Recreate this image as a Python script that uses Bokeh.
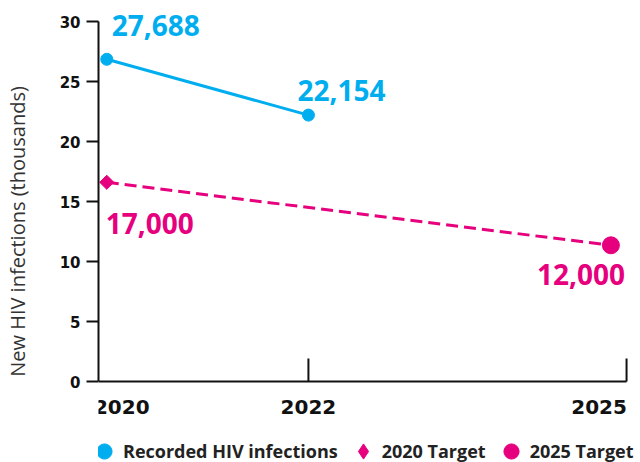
import math
from bokeh.plotting import figure
from bokeh.models import Range1d, FixedTicker, Legend, LegendItem
from bokeh.core.properties import value
from bokeh.embed import file_html
from bokeh.resources import INLINE

# ---------------- data (thousands) ----------------
recorded_years = [2020, 2022]
recorded_values = [26.85, 22.2]
recorded_labels = ["27,688", "22,154"]

target2020_years = [2020]
target2020_values = [16.6]
target2020_labels = ["17,000"]

target2025_years = [2025]
target2025_values = [11.35]
target2025_labels = ["12,000"]

target_line_years = [2020, 2025]
target_line_values = [16.6, 11.35]

y_ticks = [0, 5, 10, 15, 20, 25, 30]
x_tick_years = [2020, 2022, 2025]
x_tick_labels = ["2020", "2022", "2025"]

legend_labels = ["Recorded HIV infections", "2020 Target", "2025 Target"]
y_title = "New HIV infections (thousands)"

# ---------------- style / layout ----------------
BLUE = "#00AEEF"
PINK = "#E6007E"
INK = "#111111"
PX_PER_YEAR = 101.2
PX_PER_UNIT = 12
X_START = 2020 - 8.3 / PX_PER_YEAR
AXIS_END = X_START + 530 / PX_PER_YEAR
X_END = X_START + 544 / PX_PER_YEAR
Y_START = -81 / PX_PER_UNIT
Y_END = 381 / PX_PER_UNIT

p = figure(width=640, height=462, output_backend="svg", toolbar_location=None,
           title=None, x_range=Range1d(X_START, X_END), y_range=Range1d(Y_START, Y_END),
           min_border_left=96, min_border_right=0, min_border_top=0, min_border_bottom=0,
           outline_line_color=None)
p.grid.visible = False
p.xaxis.visible = False

yax = p.yaxis[0]
yax.ticker = FixedTicker(ticks=y_ticks)
yax.bounds = (0, 30)
yax.major_tick_out = 12
yax.major_tick_in = 0
yax.minor_tick_out = 0
yax.minor_tick_in = 0
yax.axis_line_width = 2
yax.axis_line_color = INK
yax.major_tick_line_width = 2
yax.major_tick_line_color = INK
yax.major_label_text_font = "DejaVu Sans"
yax.major_label_text_font_style = "bold"
yax.major_label_text_font_size = "15px"
yax.major_label_text_color = INK
yax.major_label_standoff = 6
yax.axis_label = y_title
yax.axis_label_text_font = "Open Sans"
yax.axis_label_text_font_style = "normal"
yax.axis_label_text_font_size = "20px"
yax.axis_label_text_color = "#333333"
yax.axis_label_standoff = 26

# x axis line and inward ticks
p.segment(x0=[X_START], y0=[0], x1=[AXIS_END], y1=[0], line_color=INK, line_width=2)
tick_x = [2022, AXIS_END]
p.segment(x0=tick_x, y0=[0, 0], x1=tick_x, y1=[23 / 12, 23 / 12], line_color=INK, line_width=2)

# year labels
year_aligns = ["center", "center", "right"]
year_offsets = [15, 0, 16]
for yr, lab, al, off in zip(x_tick_years, x_tick_labels, year_aligns, year_offsets):
    p.text(x=[yr], y=[0], text=[lab], x_offset=off, y_offset=25, text_align=al,
           text_baseline="middle", text_font=value("DejaVu Sans"), text_font_style="bold",
           text_font_size="20px", text_color=INK)

# series
p.line(recorded_years, recorded_values, line_color=BLUE, line_width=3)
r_rec = p.scatter(recorded_years, recorded_values, size=12, color=BLUE)
p.line(target_line_years, target_line_values, line_color=PINK, line_width=3, line_dash="12 6")
# diamond key for the legend (sits hidden under the rotated-square marker)
r_t20 = p.scatter(target2020_years, target2020_values, marker="diamond", size=10, color=PINK)
p.scatter(target2020_years, target2020_values, marker="square", angle=math.pi / 4,
          size=10, color=PINK)
r_t25 = p.scatter(target2025_years, target2025_values, size=17, color=PINK)

lab_kw = dict(text_font=value("Open Sans"), text_font_style="bold", text_font_size="28px",
              text_baseline="middle")
p.text(x=[recorded_years[0]], y=[recorded_values[0]], text=[recorded_labels[0]],
       x_offset=5, y_offset=-34, text_align="left", text_color=BLUE, **lab_kw)
p.text(x=[recorded_years[1]], y=[recorded_values[1]], text=[recorded_labels[1]],
       x_offset=-11, y_offset=-25, text_align="left", text_color=BLUE, **lab_kw)
p.text(x=target2020_years, y=target2020_values, text=target2020_labels,
       x_offset=-1, y_offset=41, text_align="left", text_color=PINK, **lab_kw)
p.text(x=target2025_years, y=target2025_values, text=target2025_labels,
       x_offset=14, y_offset=29, text_align="right", text_color=PINK, **lab_kw)

legend = Legend(items=[LegendItem(label=legend_labels[0], renderers=[r_rec]),
                       LegendItem(label=legend_labels[1], renderers=[r_t20]),
                       LegendItem(label=legend_labels[2], renderers=[r_t25])],
                orientation="horizontal", location=(-13, -8), glyph_width=38, glyph_height=38,
                label_standoff=0, spacing=6, padding=0, margin=0, border_line_color=None,
                background_fill_alpha=0, label_text_font="Open Sans",
                label_text_font_style="bold", label_text_font_size="18px",
                label_text_color="#222222")
p.add_layout(legend, "center")

open("out.html", "w").write(file_html(p, INLINE))
